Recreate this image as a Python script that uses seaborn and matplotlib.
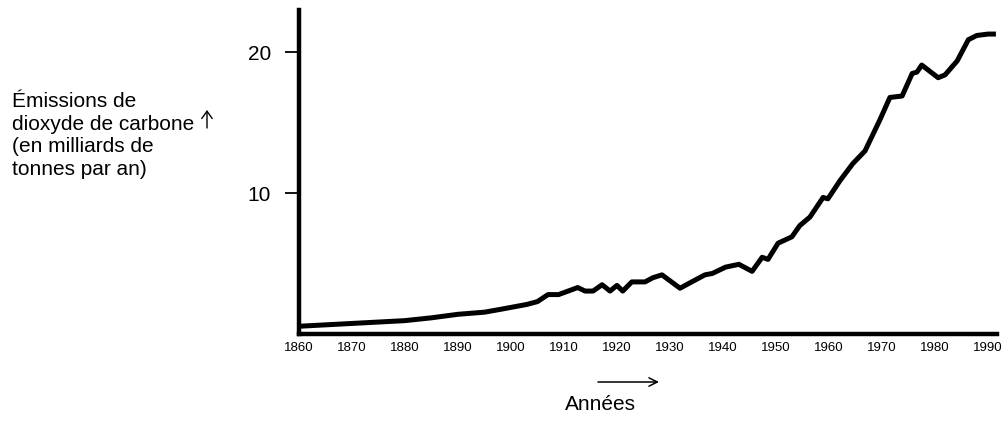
import matplotlib
matplotlib.use("Agg")
import matplotlib.pyplot as plt
import seaborn as sns
import pandas as pd
from matplotlib.patches import FancyArrowPatch

years = [1860, 1865, 1870, 1875, 1880, 1885, 1890, 1895, 1898, 1903, 1905,
         1907, 1909, 1912.6, 1914, 1915.5, 1917.2, 1918.7, 1920, 1921.1,
         1922.8, 1925.3, 1926.8, 1928.5, 1931.9, 1934.1, 1936.6, 1938,
         1940.5, 1943, 1945.5, 1947.4, 1948.5, 1950.4, 1953, 1954.5, 1956.4,
         1958.9, 1959.8, 1962.1, 1964.5, 1966.8, 1969.6, 1971.5, 1973.8,
         1975.7, 1976.6, 1977.5, 1980.6, 1981.9, 1984.2, 1986.3, 1987.9,
         1990, 1991.5]
emissions = [0.55, 0.65, 0.75, 0.85, 0.95, 1.15, 1.4, 1.55, 1.75, 2.1, 2.3,
             2.8, 2.8, 3.3, 3.05, 3.05, 3.5, 3.05, 3.45, 3.05,
             3.7, 3.7, 4.0, 4.2, 3.25, 3.7, 4.2, 4.3,
             4.75, 4.95, 4.45, 5.45, 5.3, 6.45, 6.9, 7.7, 8.3,
             9.7, 9.6, 10.9, 12.1, 13.0, 15.2, 16.8, 16.9,
             18.5, 18.6, 19.1, 18.2, 18.4, 19.4, 20.9, 21.2,
             21.3, 21.3]

xticks = [1860, 1870, 1880, 1890, 1900, 1910, 1920, 1930, 1940, 1950,
          1960, 1970, 1980, 1990]
yticks = [10, 20]

df = pd.DataFrame({"year": years, "emissions": emissions})

sns.set_style("white")
plt.rcParams['font.family'] = ['Liberation Sans', 'DejaVu Sans']
plt.rcParams['text.color'] = 'black'
plt.rcParams['xtick.color'] = 'black'
plt.rcParams['ytick.color'] = 'black'

W, H = 1003, 422
fig = plt.figure(figsize=(10.03, 4.22), dpi=100)
ax = fig.add_axes([0.298, 0.2085, 0.696, 0.7675])

sns.lineplot(data=df, x="year", y="emissions", ax=ax, color="black",
             linewidth=3.6, solid_joinstyle="round", solid_capstyle="butt")

ax.set_xlim(1860, 1991.7)
ax.set_ylim(0, 23.0)
ax.set_xticks(xticks)
ax.set_xticklabels([str(t) for t in xticks], fontsize=9.5)
ax.set_yticks(yticks)
ax.set_yticklabels([str(t) for t in yticks], fontsize=15)
ax.tick_params(axis="x", length=0, pad=6, colors="black")
ax.tick_params(axis="y", length=10, width=1.3, pad=10, direction="out",
               left=True, colors="black")
ax.set_xlabel("")
ax.set_ylabel("")

for side in ["top", "right"]:
    ax.spines[side].set_visible(False)
for side in ["left", "bottom"]:
    ax.spines[side].set_linewidth(3.2)
    ax.spines[side].set_color("black")

fig.text(12 / W, 1 - 175 / H,
         "Émissions de\ndioxyde de carbone\n(en milliards de\ntonnes par an)",
         fontsize=15, ha="left", va="baseline", linespacing=1.25,
         color="black")
fig.add_artist(FancyArrowPatch(
    (207 / W, 1 - 128 / H), (207 / W, 1 - 110 / H),
    transform=fig.transFigure,
    arrowstyle="->,head_length=0.35,head_width=0.25", mutation_scale=15,
    linewidth=1.0, color="black", shrinkA=0, shrinkB=0))

fig.text(600 / W, 1 - 405 / H, "Années", fontsize=15, ha="center",
         va="center", color="black")
fig.add_artist(FancyArrowPatch(
    (598 / W, 1 - 382 / H), (659 / W, 1 - 382 / H),
    transform=fig.transFigure, arrowstyle="->", mutation_scale=15,
    linewidth=1.1, color="black", shrinkA=0, shrinkB=0))

fig.savefig("out.png", dpi=100)
